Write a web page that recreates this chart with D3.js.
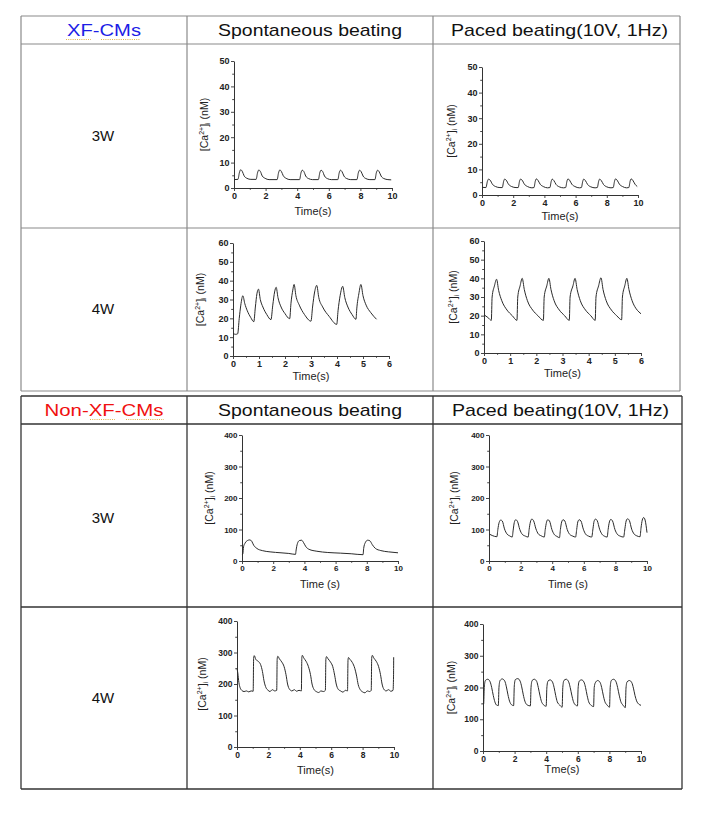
<!DOCTYPE html>
<html><head><meta charset="utf-8">
<script src="https://cdn.jsdelivr.net/npm/d3@7"></script>
<style>html,body{margin:0;padding:0;background:#fff;}</style>
</head><body>
<svg id="fig" width="723" height="825"></svg>
<script>
// ---------- DATA ----------
const groupTitles = ["XF-CMs", "Non-XF-CMs"];
const columnHeaders = ["Spontaneous beating", "Paced beating(10V, 1Hz)"];
const rowLabels = ["3W", "4W"];
const xAxisTitles = ["Time(s)", "Time(s)", "Time(s)", "Time(s)", "Time (s)", "Time (s)", "Time(s)", "Tme(s)"];

const yTicksXF3W = [0, 10, 20, 30, 40, 50];
const yTicksXF4W = [0, 10, 20, 30, 40, 50, 60];
const yTicksNon = [0, 100, 200, 300, 400];
const xTicks10 = [0, 2, 4, 6, 8, 10];
const xTicks6 = [0, 1, 2, 3, 4, 5, 6];

// XF-CMs 3W spontaneous  [time s, Ca nM]
const xf3wSpont = [[0,3.3],[0.25,3.4],[0.34,6.0],[0.42,7.2],[0.52,6.6],[0.64,4.8],[0.82,3.8],[1.07,3.4],
 [1.40,3.4],[1.49,6.0],[1.57,7.1],[1.67,6.5],[1.79,4.7],[1.97,3.8],[2.22,3.3],
 [2.73,3.3],[2.82,6.0],[2.90,7.1],[3.00,6.5],[3.12,4.8],[3.30,3.8],[3.55,3.3],
 [4.15,3.3],[4.24,6.0],[4.32,7.0],[4.42,6.5],[4.54,4.7],[4.72,3.7],[4.97,3.3],
 [5.34,3.3],[5.43,6.0],[5.51,7.0],[5.61,6.5],[5.73,4.7],[5.91,3.7],[6.16,3.3],
 [6.57,3.3],[6.66,6.0],[6.74,7.0],[6.84,6.4],[6.96,4.7],[7.14,3.7],[7.39,3.3],
 [7.78,3.3],[7.87,6.0],[7.95,7.0],[8.05,6.4],[8.17,4.7],[8.35,3.7],[8.60,3.3],
 [8.92,3.3],[9.01,6.0],[9.09,7.0],[9.19,6.4],[9.31,4.7],[9.49,3.7],[9.74,3.3],[9.95,3.2]];

// XF-CMs 3W paced
const xf3wPaced = [[0,3.0],[0.25,2.9],[0.35,5.4],[0.42,6.2],[0.52,5.8],[0.67,4.2],[0.87,3.3],[1.15,2.9],
 [1.3,2.9],[1.39,5.4],[1.45,6.2],[1.55,5.8],[1.7,4.2],[1.9,3.3],[2.18,2.9],
 [2.32,2.9],[2.41,5.5],[2.47,6.2],[2.57,5.8],[2.72,4.2],[2.92,3.3],[3.2,2.8],
 [3.33,2.9],[3.42,5.5],[3.48,6.3],[3.58,5.8],[3.73,4.2],[3.93,3.3],[4.2,2.8],
 [4.35,2.9],[4.44,5.4],[4.5,6.2],[4.6,5.7],[4.75,4.1],[4.95,3.2],[5.22,2.8],
 [5.36,2.9],[5.45,5.5],[5.51,6.3],[5.61,5.8],[5.76,4.2],[5.96,3.3],[6.24,2.8],
 [6.37,2.9],[6.46,5.4],[6.52,6.2],[6.62,5.7],[6.77,4.1],[6.97,3.2],[7.25,2.8],
 [7.39,2.9],[7.48,5.4],[7.54,6.2],[7.64,5.7],[7.79,4.1],[7.99,3.2],[8.27,2.8],
 [8.41,2.9],[8.5,5.5],[8.56,6.3],[8.66,5.8],[8.81,4.2],[9.01,3.3],[9.27,2.8],
 [9.41,2.9],[9.5,5.5],[9.56,6.3],[9.66,5.8],[9.81,4.2],[9.95,3.3]];

// XF-CMs 4W spontaneous
const xf4wSpont = [[0,12],[0.1,11.5],[0.18,11.8],[0.24,20],[0.3,27],[0.38,32],[0.45,28],[0.55,24],[0.68,20.5],[0.8,18.2],
 [0.86,26],[0.92,33],[0.98,35.5],[1.05,30],[1.15,26],[1.3,22],[1.46,19.3],
 [1.53,27],[1.6,34],[1.66,36.5],[1.73,31],[1.85,26],[2.0,22.5],[2.18,19.8],
 [2.23,28],[2.3,35],[2.35,38],[2.42,32],[2.55,27],[2.75,22],[3.0,18.5],
 [3.06,26],[3.14,34],[3.22,37.5],[3.3,31],[3.45,26],[3.7,21],[3.99,16.8],
 [4.04,24],[4.12,32],[4.22,37],[4.3,31],[4.42,26],[4.58,22],[4.73,19.5],
 [4.76,25],[4.84,33],[4.92,38],[5.0,32],[5.12,27],[5.3,23],[5.52,19.5]];

// XF-CMs 4W paced
const xf4wPaced = [[0,20.5],[0.15,19],[0.28,17.5],
 [0.31,30],[0.4,36],[0.48,39.5],[0.56,33.5],[0.68,28],[0.88,23],[1.08,20],[1.26,17.5],
 [1.29,30],[1.38,36],[1.46,40],[1.54,34],[1.66,28],[1.86,23],[2.06,20],[2.27,17.5],
 [2.3,30],[2.4,36],[2.48,40],[2.56,34],[2.68,28],[2.88,23],[3.08,20],[3.26,17.5],
 [3.29,30],[3.4,36],[3.48,40],[3.56,34],[3.68,28],[3.88,23],[4.08,20],[4.25,17.5],
 [4.28,30],[4.38,36],[4.47,40.3],[4.55,34],[4.67,28],[4.87,23],[5.07,20],[5.26,17.8],
 [5.29,30],[5.38,36],[5.46,40],[5.54,34],[5.66,28],[5.8,24],[5.92,22],[6.0,21]];

// Non-XF-CMs 3W spontaneous
const non3wSpont = [[0,20],[0.05,22],[0.1,45],[0.2,57],[0.35,65],[0.5,67],[0.62,63],[0.75,50],[0.95,40],[1.3,33],[1.8,29],[2.5,26],[3.0,24],[3.43,21],
 [3.47,35],[3.55,55],[3.68,65],[3.82,66],[3.95,58],[4.1,45],[4.3,37],[4.8,31],[5.5,27],[6.3,25],[7.0,23],[7.76,20],
 [7.8,40],[7.9,58],[8.05,66],[8.2,64],[8.35,52],[8.55,40],[8.9,33],[9.4,29],[10.0,26]];

// Non-XF-CMs 3W paced
const non3wPaced = [[0,86],[0.2,81],[0.5,77],
 [0.56,100],[0.64,122],[0.74,130],[0.84,127],[0.98,102],[1.15,85],[1.3,80],[1.47,76],
 [1.53,98],[1.6,122],[1.69,131],[1.8,126],[1.95,100],[2.1,85],[2.3,79],[2.48,76],
 [2.54,100],[2.62,124],[2.71,133],[2.82,128],[2.97,102],[3.12,86],[3.3,80],[3.5,76],
 [3.56,100],[3.64,123],[3.72,131],[3.83,127],[3.98,100],[4.12,85],[4.3,78],[4.46,74],
 [4.52,100],[4.6,124],[4.69,131],[4.8,127],[4.95,100],[5.1,85],[5.3,79],[5.48,76],
 [5.55,100],[5.62,124],[5.71,131],[5.82,127],[5.97,101],[6.12,85],[6.3,79],[6.5,76],
 [6.58,102],[6.65,126],[6.74,133],[6.85,128],[7.0,101],[7.15,85],[7.3,79],[7.48,76],
 [7.54,100],[7.62,124],[7.71,132],[7.82,127],[7.97,100],[8.12,85],[8.3,79],[8.52,76],
 [8.6,102],[8.68,127],[8.77,134],[8.88,129],[9.03,101],[9.18,86],[9.35,80],[9.56,77],
 [9.62,104],[9.7,130],[9.79,138],[9.88,130],[10.0,90]];

// Non-XF-CMs 4W spontaneous
const non4wSpont = [[0,250],[0.05,235],[0.12,205],[0.2,188],[0.3,180],[0.45,176],[0.6,178],[0.75,175],[0.9,178],[1.03,177],
 [1.06,282],[1.1,290],[1.2,278],[1.35,272],[1.5,262],[1.62,240],[1.72,210],[1.85,188],[1.98,180],[2.1,176],[2.25,182],[2.4,178],[2.53,180],
 [2.56,280],[2.6,288],[2.7,280],[2.85,270],[3.0,255],[3.12,230],[3.22,200],[3.35,183],[3.5,178],[3.65,182],[3.8,177],[3.95,180],[4.1,178],
 [4.13,283],[4.16,291],[4.26,282],[4.4,272],[4.55,255],[4.68,230],[4.78,200],[4.9,183],[5.05,176],[5.2,173],[5.35,178],[5.5,176],[5.63,180],
 [5.66,278],[5.7,287],[5.8,280],[5.95,270],[6.1,255],[6.22,228],[6.32,200],[6.45,183],[6.6,178],[6.75,174],[6.9,180],[7.04,178],
 [7.07,275],[7.1,284],[7.2,278],[7.35,268],[7.5,250],[7.62,225],[7.72,198],[7.85,182],[8.0,175],[8.15,172],[8.3,178],[8.45,176],[8.55,180],
 [8.58,282],[8.62,291],[8.72,282],[8.87,272],[9.02,255],[9.14,230],[9.24,200],[9.36,183],[9.5,178],[9.65,182],[9.8,177],[9.94,180],
 [9.97,225],[9.98,285]];

// Non-XF-CMs 4W paced
const non4wPaced = [[0,150],[0.04,148],
 [0.08,200],[0.15,222],[0.3,226],[0.45,218],[0.55,200],[0.65,175],[0.75,155],[0.85,145],[0.97,143],
 [1.01,200],[1.08,222],[1.22,227],[1.38,220],[1.48,202],[1.58,177],[1.68,157],[1.8,146],[1.94,143],
 [1.98,205],[2.05,225],[2.2,228],[2.35,220],[2.45,202],[2.55,177],[2.65,157],[2.8,145],[3.0,142],
 [3.04,200],[3.11,222],[3.25,226],[3.4,219],[3.5,200],[3.6,176],[3.7,156],[3.82,146],[4.0,141],
 [4.04,198],[4.11,220],[4.25,224],[4.4,217],[4.5,200],[4.6,175],[4.7,155],[4.85,145],[5.01,138],
 [5.05,200],[5.12,222],[5.27,226],[5.42,218],[5.52,200],[5.62,176],[5.72,156],[5.85,145],[5.98,142],
 [6.02,198],[6.09,220],[6.24,224],[6.39,217],[6.49,200],[6.59,175],[6.69,155],[6.82,145],[7.0,140],
 [7.04,200],[7.11,215],[7.26,222],[7.41,216],[7.51,200],[7.61,176],[7.71,156],[7.85,145],[8.01,138],
 [8.05,200],[8.12,222],[8.27,226],[8.42,218],[8.52,200],[8.62,176],[8.72,156],[8.85,145],[9.01,137],
 [9.05,198],[9.12,218],[9.27,222],[9.42,215],[9.52,198],[9.62,175],[9.72,158],[9.85,148],[10.0,144]];

// ---------- LAYOUT ----------
const svg = d3.select("#fig");
svg.append("rect").attr("width", 723).attr("height", 825).attr("fill", "#fff");

const headerFont = "'Liberation Sans', Arial, sans-serif";
const tables = [
  {top: 16, head: 44, mid: 228, bottom: 391, left: 21, c1: 187, c2: 433, right: 680, stroke: "#8a8a8a", sw: 1.2,
   title: groupTitles[0], color: "#1d1de6", tw: 74, rowY: [136, 309]},
  {top: 396, head: 424, mid: 607, bottom: 789, left: 21, c1: 187, c2: 433, right: 682, stroke: "#333", sw: 1.3,
   title: groupTitles[1], color: "#f01010", tw: 119, rowY: [518, 698]}
];

tables.forEach(t => {
  const g = svg.append("g");
  const hl = [t.top, t.head, t.mid, t.bottom];
  hl.forEach(y => g.append("line").attr("x1", t.left).attr("x2", t.right).attr("y1", y).attr("y2", y)
    .attr("stroke", t.stroke).attr("stroke-width", t.sw));
  [t.left, t.c1, t.c2, t.right].forEach(x => g.append("line").attr("x1", x).attr("x2", x).attr("y1", t.top).attr("y2", t.bottom)
    .attr("stroke", t.stroke).attr("stroke-width", t.sw));
  const cy = (t.top + t.head) / 2 + 6;
  const tx = (t.left + t.c1) / 2;
  g.append("text").attr("x", tx).attr("y", cy).attr("text-anchor", "middle")
    .attr("font-family", headerFont).attr("font-size", 17).attr("fill", t.color)
    .attr("textLength", t.tw).attr("lengthAdjust", "spacingAndGlyphs").text(t.title);
  // spell-check style dotted underline under the abbreviations
  const parts = t.title === "XF-CMs" ? [[66, 91], [101, 140]] : [[90, 115], [126, 164]];
  parts.forEach(p => g.append("line").attr("x1", p[0]).attr("x2", p[1]).attr("y1", cy + 3.5).attr("y2", cy + 3.5)
    .attr("stroke", "#e2b24a").attr("stroke-width", 1.2).attr("stroke-dasharray", "1,1.2"));
  const hw = [184, 217];
  columnHeaders.forEach((h, i) => {
    const x0 = i === 0 ? t.c1 : t.c2, x1 = i === 0 ? t.c2 : t.right;
    g.append("text").attr("x", (x0 + x1) / 2 + (i === 1 ? 3 : 0)).attr("y", cy).attr("text-anchor", "middle")
      .attr("font-family", headerFont).attr("font-size", 17).attr("fill", "#111")
      .attr("textLength", hw[i]).attr("lengthAdjust", "spacingAndGlyphs").text(h);
  });
  rowLabels.forEach((r, i) => {
    g.append("text").attr("x", tx - 1).attr("y", t.rowY[i] + 5).attr("text-anchor", "middle")
      .attr("font-family", headerFont).attr("font-size", 15).attr("fill", "#111").text(r);
  });
});

// ---------- CHARTS ----------
const charts = [
  {data: xf3wSpont, xmax: 10, xt: xTicks10, xminor: 1, ymax: 50, yt: yTicksXF3W, yminor: 5, x0: 234, x1: 392, y0: 188, y1: 61, lx: 208, ty: 215, fs: 9},
  {data: xf3wPaced, xmax: 10, xt: xTicks10, xminor: 1, ymax: 50, yt: yTicksXF3W, yminor: 5, x0: 482, x1: 638, y0: 195, y1: 67, lx: 455, ty: 220, fs: 9},
  {data: xf4wSpont, xmax: 6, xt: xTicks6, xminor: 0.5, ymax: 60, yt: yTicksXF4W, yminor: 5, x0: 233, x1: 389, y0: 356, y1: 243, lx: 204, ty: 380, fs: 9},
  {data: xf4wPaced, xmax: 6, xt: xTicks6, xminor: 0.5, ymax: 60, yt: yTicksXF4W, yminor: 5, x0: 484, x1: 641, y0: 353, y1: 241, lx: 457, ty: 377, fs: 9},
  {data: non3wSpont, xmax: 10, xt: xTicks10, xminor: 1, ymax: 400, yt: yTicksNon, yminor: 50, x0: 242, x1: 398, y0: 561, y1: 435, lx: 213, ty: 588, fs: 8},
  {data: non3wPaced, xmax: 10, xt: xTicks10, xminor: 1, ymax: 400, yt: yTicksNon, yminor: 50, x0: 489, x1: 647, y0: 561, y1: 435, lx: 458, ty: 588, fs: 8},
  {data: non4wSpont, xmax: 10, xt: xTicks10, xminor: 1, ymax: 400, yt: yTicksNon, yminor: 50, x0: 237, x1: 394, y0: 747, y1: 621, lx: 206, ty: 774, fs: 8.5},
  {data: non4wPaced, xmax: 10, xt: xTicks10, xminor: 1, ymax: 400, yt: yTicksNon, yminor: 50, x0: 483, x1: 641, y0: 751, y1: 624, lx: 455, ty: 773, fs: 8.5}
];

const tickFont = "'Liberation Sans', Arial, sans-serif";
charts.forEach((c, idx) => {
  const g = svg.append("g");
  const x = d3.scaleLinear().domain([0, c.xmax]).range([c.x0, c.x1]);
  const y = d3.scaleLinear().domain([0, c.ymax]).range([c.y0, c.y1]);

  const xMinorVals = d3.range(0, c.xmax + 1e-9, c.xminor).filter(v => !c.xt.includes(+v.toFixed(3)));
  const yMinorVals = d3.range(0, c.ymax + 1e-9, c.yminor).filter(v => !c.yt.includes(+v.toFixed(3)));

  const gx = g.append("g").attr("transform", `translate(0,${c.y0})`)
    .call(d3.axisBottom(x).tickValues(c.xt).tickFormat(d3.format("d")).tickSize(3).tickSizeOuter(0).tickPadding(1.5));
  g.append("g").attr("transform", `translate(0,${c.y0})`)
    .call(d3.axisBottom(x).tickValues(xMinorVals).tickFormat("").tickSize(1.8).tickSizeOuter(0))
    .select(".domain").remove();
  const gy = g.append("g").attr("transform", `translate(${c.x0},0)`)
    .call(d3.axisLeft(y).tickValues(c.yt).tickFormat(d3.format("d")).tickSize(3).tickSizeOuter(0).tickPadding(1.5));
  g.append("g").attr("transform", `translate(${c.x0},0)`)
    .call(d3.axisLeft(y).tickValues(yMinorVals).tickFormat("").tickSize(1.8).tickSizeOuter(0))
    .select(".domain").remove();

  g.selectAll(".domain").attr("stroke", "#333").attr("stroke-width", 1);
  g.selectAll(".tick line").attr("stroke", "#333").attr("stroke-width", 0.9);
  g.selectAll(".tick text").attr("font-family", tickFont).attr("font-size", c.fs)
    .attr("font-weight", "bold").attr("fill", "#222");

  const line = d3.line().x(d => x(d[0])).y(d => y(d[1])).curve(d3.curveMonotoneX);
  g.append("path").datum(c.data).attr("d", line).attr("fill", "none")
    .attr("stroke", "#2a2a2a").attr("stroke-width", 1);

  // x axis title
  g.append("text").attr("x", (c.x0 + c.x1) / 2).attr("y", c.ty).attr("text-anchor", "middle")
    .attr("font-family", tickFont).attr("font-size", 11).attr("fill", "#222").text(xAxisTitles[idx]);

  // y axis title
  const ly = (c.y0 + c.y1) / 2;
  const yt = g.append("text").attr("transform", `translate(${c.lx},${ly}) rotate(-90)`)
    .attr("text-anchor", "middle").attr("font-family", tickFont).attr("font-size", 10.5).attr("fill", "#222");
  yt.append("tspan").text("[Ca");
  yt.append("tspan").attr("font-size", 7).attr("dy", -4).text("2+");
  yt.append("tspan").attr("dy", 4).text("]");
  yt.append("tspan").attr("font-size", 7).attr("dy", 2).text("i");
  yt.append("tspan").attr("dy", -2).text(" (nM)");
});
</script>
</body></html>
